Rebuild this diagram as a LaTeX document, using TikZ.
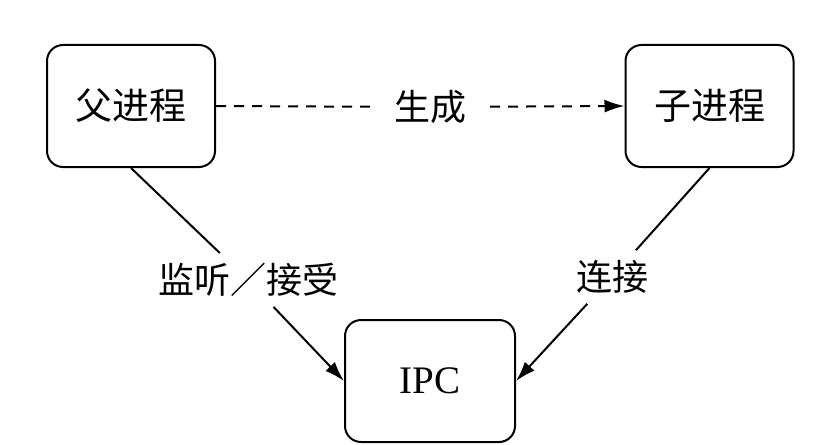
\documentclass[tikz,border=0pt]{standalone}
\usepackage{fontspec}
\setmainfont{Liberation Serif}
\newfontfamily\cjk{Noto Sans CJK SC}
\usetikzlibrary{arrows.meta}

\begin{document}
\begin{tikzpicture}[x=1pt, y=-1pt,
    procbox/.style={draw, line width=2pt, rounded corners=16pt, minimum width=168pt, minimum height=122pt, font=\cjk\fontsize{37}{40}\selectfont},
    edgelabel/.style={inner xsep=10pt, inner ysep=10pt, font=\cjk\fontsize{36}{40}\selectfont},
    link/.style={line width=2pt},
    tip/.style={-{Latex[length=20pt,width=13pt]}}]
				\useasboundingbox (0,0) rectangle (837,444);
				
				\node[procbox] (parent) at (131,106) {父进程};
				\node[procbox] (child) at (709.5,106) {子进程};
				\node[procbox, minimum width=170pt, font=\fontsize{39}{40}\selectfont] (ipc) at (430,381) {IPC};
				
				\node[edgelabel, inner xsep=24pt] (spawn) at (430,107) {生成};
				\node[edgelabel] (listen) at (248,280) {监听／接受};
				\node[edgelabel] (connect) at (612,277) {连接};
				
				\draw[link, dash pattern=on 10pt off 8pt] (parent.east) -- (spawn);
				\draw[link, tip, dash pattern=on 10pt off 8pt] (spawn) -- (child.west);
				
				\draw[link] (parent.south) -- (listen);
				\draw[link, tip] (listen) -- (ipc.west);
				
				\draw[link] (child.south) -- (connect);
				\draw[link, tip] (connect) -- (ipc.east);
			\end{tikzpicture}
\end{document}
